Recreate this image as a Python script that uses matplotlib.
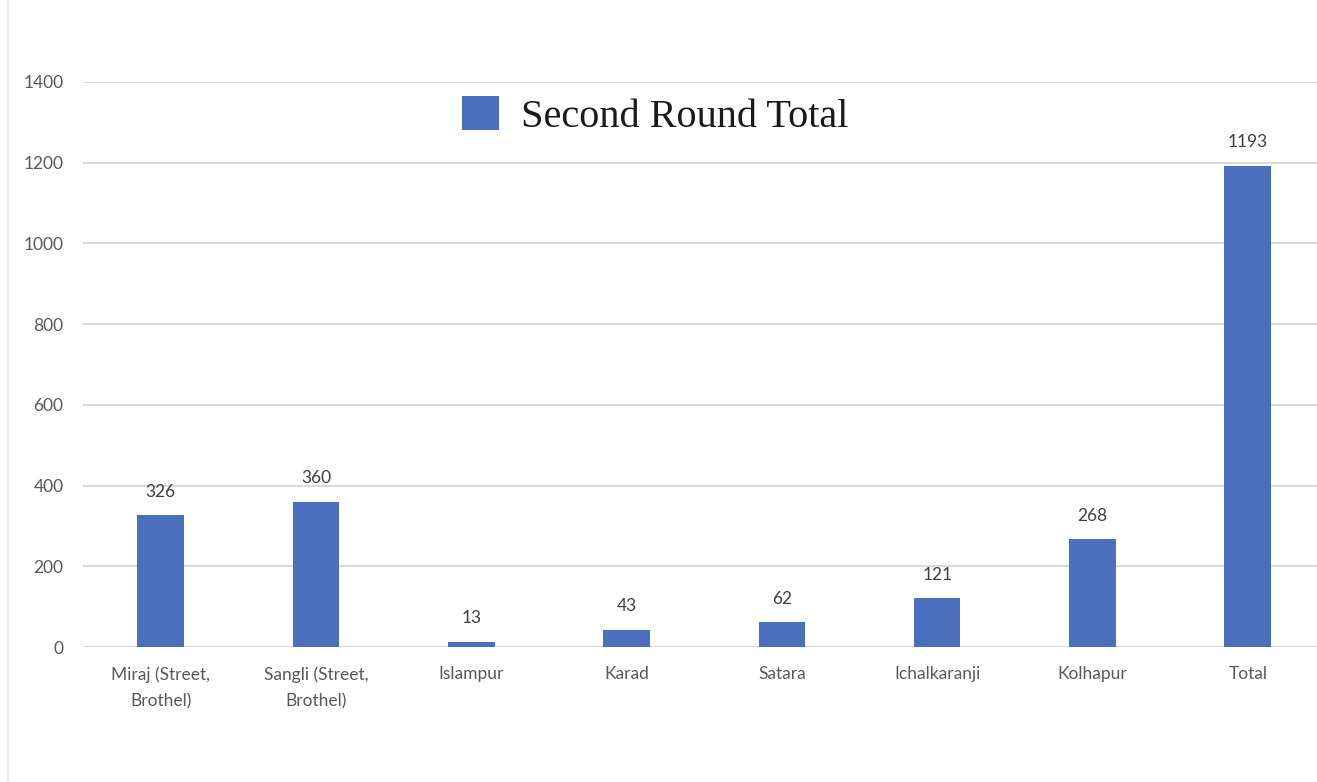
import numpy as np
import matplotlib.pyplot as plt
from matplotlib.lines import Line2D

# data
categories = ["Miraj (Street,\nBrothel)", "Sangli (Street,\nBrothel)", "Islampur", "Karad",
              "Satara", "Ichalkaranji", "Kolhapur", "Total"]
second_round = [326, 360, 13, 43, 62, 121, 268, 1193]
yticks = [0, 200, 400, 600, 800, 1000, 1200, 1400]

bar_color = "#4a6fbd"
grid_color = "#d9d9d9"
text_color = "#595959"

fig = plt.figure(figsize=(13.17, 7.82), dpi=100)
ax = fig.add_axes([83/1317, 1 - 647/782, 1 - 83/1317, (647 - 82)/782])

x = np.arange(len(categories))
bars = ax.bar(x, second_round, width=0.30, color=bar_color, label="Second Round Total", zorder=3)

for xi, v in zip(x, second_round):
    ax.annotate(str(v), (xi, v), xytext=(0, 11), textcoords="offset points",
                ha="center", va="bottom", fontsize=12.5, color="#404040", family="Lato")

ax.set_ylim(0, 1400)
ax.set_xlim(-0.5, (1317 - 83) / 155.3 - 0.5)
ax.set_yticks(yticks)
ax.set_xticks(x)
ax.set_xticklabels(categories, fontsize=12.5, color=text_color, family="Lato", linespacing=1.8)
ax.set_yticklabels([str(t) for t in yticks], fontsize=12.5, color=text_color, family="Lato")
ax.tick_params(axis="both", length=0)
ax.tick_params(axis="y", pad=14)
ax.tick_params(axis="x", pad=14)
ax.grid(axis="y", color=grid_color, linewidth=1.5, zorder=0)
for s in ax.spines.values():
    s.set_visible(False)

leg = ax.legend(loc="center", bbox_to_anchor=(655/1317, 1 - 116/782), bbox_transform=fig.transFigure,
                frameon=False, borderpad=0, handlelength=0.92, handleheight=0.92, handletextpad=0.55,
                prop={"family": "Liberation Serif", "size": 29})
for t in leg.get_texts():
    t.set_color("#1a1a1a")

# faint frame line on the left edge
fig.add_artist(Line2D([8/1317, 8/1317], [0, 1], color="#e6e6e6", linewidth=1.2))

fig.savefig("out.png", dpi=100)
